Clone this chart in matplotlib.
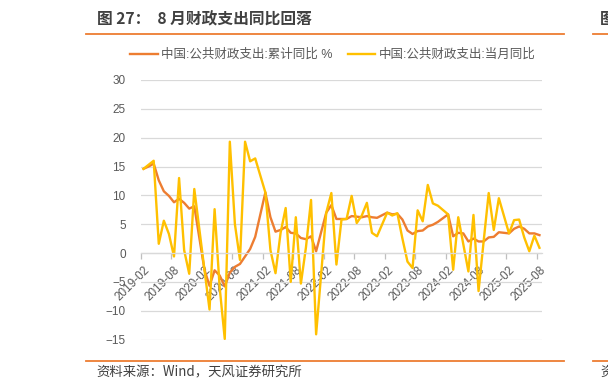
import numpy as np
import pandas as pd
import matplotlib
matplotlib.use('Agg')
import matplotlib.pyplot as plt
from matplotlib.lines import Line2D

plt.rcParams['font.family'] = ['Liberation Sans', 'Noto Sans CJK SC', 'DejaVu Sans']

# months 2019-02 .. 2025-08 (January has no separate release -> None)
months = [str(p) for p in pd.period_range('2019-02', '2025-08', freq='M')]

cum_yoy = [14.6, 15.0, 15.5, 12.6, 10.7, 9.9, 8.8, 9.4, 8.7, 7.7, 8.1, None,
           -2.9, -5.7, -3.0, -3.9, -5.8, -3.4, -2.4, -1.9, -0.6, 0.7, 2.8, None,
           10.5, 6.2, 3.7, 4.0, 4.5, 3.5, 3.4, 2.6, 2.4, 2.9, 0.3, None,
           7.0, 8.3, 5.9, 5.9, 5.9, 6.4, 6.3, 6.2, 6.4, 6.2, 6.1, None,
           7.0, 6.7, 6.8, 5.8, 3.9, 3.3, 3.8, 3.9, 4.6, 4.9, 5.4, None,
           6.7, 2.9, 3.5, 3.4, 2.0, 2.5, 2.0, 2.0, 2.7, 2.8, 3.6, None,
           3.4, 4.2, 4.6, 4.2, 3.4, 3.4, 3.1]

month_yoy = [14.6, 15.3, 16.0, 1.6, 5.6, 3.3, -0.6, 13.0, 0.5, -3.6, 11.1, None,
             -2.9, -9.8, 7.6, -6.0, -14.9, 19.3, 5.0, -1.2, 19.3, 15.9, 16.4, None,
             10.5, 0.5, -3.5, 3.5, 7.8, -5.0, 6.2, -5.3, 1.0, 9.2, -14.1, None,
             7.0, 10.4, -2.0, 5.8, 5.9, 9.9, 5.2, 6.5, 8.7, 3.5, 2.9, None,
             7.0, 6.5, 6.9, 2.5, -1.5, -2.6, 7.4, 5.5, 11.8, 8.6, 8.2, None,
             6.7, -2.9, 6.2, 1.5, -3.2, 6.6, -6.6, 2.0, 10.4, 4.0, 9.5, None,
             3.4, 5.7, 5.8, 2.7, 0.3, 3.0, 0.9]

labels = ['中国:公共财政支出:累计同比 %', '中国:公共财政支出:当月同比']
colors = ['#ED7D31', '#FFC000']
TEXT = '#595959'

W, H = 608, 389
fig = plt.figure(figsize=(W / 100, H / 100), dpi=100)
ax = fig.add_axes([141 / W, 1 - 339.5 / H, (542 - 141) / W, (339.5 - 80) / H])

x = np.arange(len(months))
for vals, c in zip([cum_yoy, month_yoy], colors):
    y = np.array([np.nan if v is None else v for v in vals])
    ok = ~np.isnan(y)
    ax.plot(x[ok], y[ok], color=c, lw=1.7, solid_joinstyle='round')

ax.set_xlim(-0.5, len(months) - 0.5)
ax.set_ylim(-15, 30)
ax.set_yticks(range(-15, 31, 5))
ax.yaxis.grid(True, color='#D9D9D9', lw=0.9)
ax.set_axisbelow(True)
for s in ['top', 'right', 'left']:
    ax.spines[s].set_visible(False)
ax.spines['bottom'].set_position(('data', 0))
ax.spines['bottom'].set_color('#D9D9D9')
ax.spines['bottom'].set_linewidth(0.9)

ax.set_xticks(x[::6])
ax.set_xticklabels(months[::6], rotation=45, ha='right', va='top',
                   rotation_mode='anchor', fontsize=8.5, color=TEXT)
ax.set_xticks(x[::6] - 0.5, minor=True)
ax.tick_params(axis='x', which='major', length=0, pad=8)
ax.tick_params(axis='x', which='minor', length=4, color='#BFBFBF', width=0.9)
ax.tick_params(axis='y', length=0, pad=11, labelsize=8.5, labelcolor=TEXT)

handles = [Line2D([], [], color=c, lw=1.7) for c in colors]
fig.legend(handles, labels, loc='center', bbox_to_anchor=(333 / W, 1 - 55 / H),
           ncol=2, frameon=False, fontsize=9, labelcolor=TEXT,
           handlelength=2.2, handletextpad=0.3, columnspacing=1.2)

# header / footer
cjk = ['Noto Sans CJK SC', 'DejaVu Sans']
fig.text(97 / W, 1 - 19 / H, '图 27：  8 月财政支出同比回落', family=cjk,
         fontsize=11.3, weight='bold', color='#404040', va='center')
fig.text(600 / W, 1 - 19 / H, '图', family=cjk, fontsize=11.3,
         weight='bold', color='#404040', va='center')
fig.text(96 / W, 1 - 372 / H, '资料来源：Wind，天风证券研究所', family=cjk,
         fontsize=9.6, color='#404040', va='center')
fig.text(600 / W, 1 - 372 / H, '资', family=cjk, fontsize=9.6,
         color='#404040', va='center')
for yy in [34, 361]:
    fig.add_artist(Line2D([86 / W, 564 / W], [1 - yy / H] * 2, color='#ED7D31', lw=1.3))
    fig.add_artist(Line2D([593 / W, 1], [1 - yy / H] * 2, color='#ED7D31', lw=1.3))

fig.savefig('out.png', dpi=100)
